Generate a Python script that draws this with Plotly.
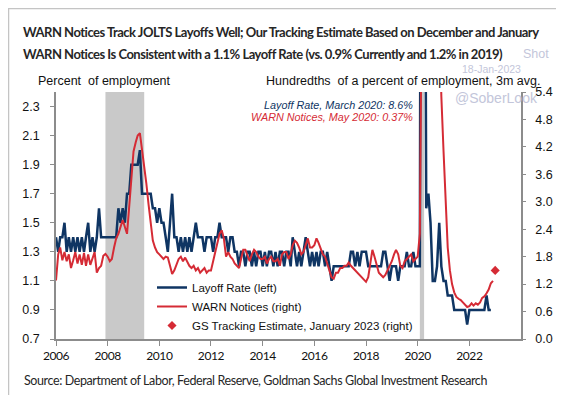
import pandas as pd
import plotly.graph_objects as go

# ---------------- data ----------------
# JOLTS layoff rate (percent of employment), monthly from Jan 2006
layoff_2006 = [1.4, 1.3, 1.4, 1.4, 1.5, 1.3, 1.4, 1.3, 1.4, 1.3, 1.4, 1.3]
layoff_2007 = [1.4, 1.3, 1.4, 1.5, 1.3, 1.4, 1.3, 1.4, 1.6, 1.4, 1.4, 1.4]
layoff_2008 = [1.4, 1.4, 1.4, 1.4, 1.4, 1.6, 1.5, 1.6, 1.5, 1.7, 1.7, 1.9]
layoff_2009 = [1.9, 1.9, 1.9, 2.0, 1.7, 1.7, 1.7, 1.7, 1.7, 1.6, 1.6, 1.5]
layoff_2010 = [1.6, 1.5, 1.5, 1.4, 1.3, 1.5, 1.7, 1.4, 1.4, 1.3, 1.4, 1.3]
layoff_2011 = [1.4, 1.3, 1.4, 1.3, 1.4, 1.5, 1.4, 1.4, 1.4, 1.3, 1.4, 1.4]
layoff_2012 = [1.4, 1.3, 1.4, 1.4, 1.5, 1.4, 1.4, 1.4, 1.3, 1.4, 1.4, 1.3]
layoff_2013 = [1.3, 1.2, 1.3, 1.3, 1.2, 1.3, 1.3, 1.2, 1.3, 1.2, 1.3, 1.3]
layoff_2014 = [1.2, 1.3, 1.2, 1.3, 1.3, 1.2, 1.3, 1.2, 1.3, 1.3, 1.2, 1.3]
layoff_2015 = [1.3, 1.2, 1.4, 1.3, 1.2, 1.3, 1.2, 1.3, 1.4, 1.3, 1.2, 1.3]
layoff_2016 = [1.2, 1.3, 1.2, 1.3, 1.3, 1.2, 1.3, 1.2, 1.1, 1.2, 1.2, 1.2]
layoff_2017 = [1.2, 1.2, 1.2, 1.2, 1.2, 1.3, 1.3, 1.2, 1.3, 1.2, 1.3, 1.3]
layoff_2018 = [1.3, 1.2, 1.2, 1.2, 1.2, 1.2, 1.2, 1.2, 1.3, 1.3, 1.2, 1.1]
layoff_2019 = [1.2, 1.2, 1.2, 1.1, 1.2, 1.2, 1.2, 1.3, 1.2, 1.2, 1.3, 1.2]
layoff_2020 = [1.2, 1.2, 8.6, 5.9, 1.6, 1.7, 1.5, 1.1, 1.1, 1.2, 1.5, 1.2]
layoff_2021 = [1.1, 1.1, 1.0, 1.0, 1.0, 0.9, 0.9, 0.9, 0.9, 0.9, 0.9, 0.8]
layoff_2022 = [0.9, 0.9, 0.9, 0.9, 0.9, 0.9, 0.9, 0.9, 1.0, 0.9, 0.9]

# WARN notices (hundredths of a percent of employment, 3m avg), monthly from Jan 2006
warn_2006 = [1.28, 1.85, 2.0, 1.72, 1.9, 1.7, 1.85, 1.55, 1.72, 1.9, 1.65, 1.85]
warn_2007 = [1.62, 1.88, 1.6, 1.85, 1.62, 1.75, 1.9, 1.45, 1.55, 1.6, 1.82, 1.86]
warn_2008 = [1.8, 1.7, 1.75, 2.0, 2.2, 2.3, 2.45, 2.6, 2.45, 2.3, 2.9, 3.5]
warn_2009 = [4.1, 4.3, 4.45, 4.5, 4.15, 3.85, 3.4, 2.95, 2.5, 2.15, 2.0, 1.9]
warn_2010 = [1.85, 1.8, 1.75, 1.8, 1.78, 1.6, 1.42, 1.5, 1.65, 1.75, 1.8, 1.7]
warn_2011 = [1.78, 1.68, 1.6, 1.55, 1.6, 1.5, 1.55, 1.45, 1.5, 1.55, 1.45, 1.5]
warn_2012 = [1.5, 1.7, 1.85, 2.1, 2.3, 2.38, 2.2, 1.8, 1.9, 1.8, 1.75, 1.65]
warn_2013 = [1.6, 1.55, 1.75, 1.95, 1.95, 1.8, 1.7, 1.85, 1.95, 1.9, 1.8, 1.75]
warn_2014 = [1.75, 1.8, 1.65, 1.75, 1.8, 1.7, 1.7, 1.75, 1.6, 1.85, 1.9, 1.9]
warn_2015 = [1.75, 1.85, 2.05, 2.15, 2.1, 2.0, 1.85, 1.9, 2.05, 2.2, 2.0, 2.0]
warn_2016 = [2.05, 2.2, 2.1, 1.95, 1.85, 1.8, 1.65, 1.5, 1.35, 1.32, 1.45, 1.45]
warn_2017 = [1.55, 1.55, 1.6, 1.6, 1.67, 1.6, 1.55, 1.5, 1.45, 1.4, 1.35, 1.3]
warn_2018 = [1.25, 1.35, 1.6, 1.95, 1.8, 1.6, 1.45, 1.4, 1.35, 1.4, 1.5, 1.6]
warn_2019 = [1.7, 1.85, 1.95, 1.85, 1.6, 1.55, 1.7, 1.75, 1.8, 1.85, 1.7, 1.75]
warn_2020 = [1.8, 2.3, 8.0, 25.0, 37.0, 32.0, 22.0, 15.0, 11.0, 9.0, 7.5, 5.3]
warn_2021 = [4.1, 2.9, 2.0, 1.5, 1.2, 1.02, 0.92, 0.88, 0.85, 0.8, 0.75, 0.7]
warn_2022 = [0.72, 0.78, 0.73, 0.78, 0.75, 0.8, 0.9, 0.93, 1.0, 1.08, 1.22, 1.27]

# GS tracking estimate, January 2023 (right axis)
gs_estimate_date = ["2023-01-01"]
gs_estimate_value = [1.5]

# recession shading
recession_starts = ["2007-12-01", "2020-02-01"]
recession_ends = ["2009-06-01", "2020-04-01"]

# axis ticks
x_tick_years = ["2006", "2008", "2010", "2012", "2014", "2016", "2018", "2020", "2022"]
left_ticks = [0.7, 0.9, 1.1, 1.3, 1.5, 1.7, 1.9, 2.1, 2.3]
right_ticks = [0.0, 0.6, 1.2, 1.8, 2.4, 3.0, 3.6, 4.2, 4.8, 5.4]

layoff_rate = (layoff_2006 + layoff_2007 + layoff_2008 + layoff_2009 + layoff_2010 +
               layoff_2011 + layoff_2012 + layoff_2013 + layoff_2014 + layoff_2015 +
               layoff_2016 + layoff_2017 + layoff_2018 + layoff_2019 + layoff_2020 +
               layoff_2021 + layoff_2022)
warn_notices = (warn_2006 + warn_2007 + warn_2008 + warn_2009 + warn_2010 + warn_2011 +
                warn_2012 + warn_2013 + warn_2014 + warn_2015 + warn_2016 + warn_2017 +
                warn_2018 + warn_2019 + warn_2020 + warn_2021 + warn_2022)

layoff_dates = pd.date_range("2006-01-01", periods=len(layoff_rate), freq="MS")
warn_dates = pd.date_range("2006-01-01", periods=len(warn_notices), freq="MS")

# ---------------- style ----------------
NAVY = "#0f3563"
RED = "#d52b35"
AXIS = "#8c8c8c"
W, H = 564, 395
ML, MR, MT, MB = 48, 51, 84, 64
PW, PH = W - ML - MR, H - MT - MB


def px(xp):
    return (xp - ML) / PW


def py(yp):
    return (H - MB - yp) / PH


COND = "Lato, Roboto, Liberation Sans, sans-serif"
ARIAL = "Liberation Sans, Arial, sans-serif"


def squeeze(text, spacing):
    return f"<span style='letter-spacing:{spacing}px'>{text}</span>"


fig = go.Figure()
fig.add_trace(go.Scatter(x=layoff_dates, y=layoff_rate, mode="lines",
                         name="Layoff Rate (left)",
                         line=dict(color=NAVY, width=2.5), yaxis="y"))
fig.add_trace(go.Scatter(x=warn_dates, y=warn_notices, mode="lines",
                         name="WARN Notices (right)",
                         line=dict(color=RED, width=2), yaxis="y2"))
fig.add_trace(go.Scatter(x=gs_estimate_date, y=gs_estimate_value, mode="markers",
                         name="GS Tracking Estimate, January 2023 (right)",
                         marker=dict(symbol="diamond", color=RED, size=7), yaxis="y2"))

for s, e in zip(recession_starts, recession_ends):
    fig.add_shape(type="rect", xref="x", yref="paper", x0=s, x1=e, y0=0, y1=1,
                  fillcolor="#c9c9c9", line_width=0, layer="below")

# outer border
fig.add_shape(type="rect", xref="paper", yref="paper",
              x0=px(0.5), x1=px(W - 1.5), y0=py(H - 1.5), y1=py(0.5),
              line=dict(color="#c4c4c4", width=1.5), fillcolor="rgba(0,0,0,0)")

annotations = [
    dict(text="<b>" + squeeze("WARN Notices Track JOLTS Layoffs Well; Our Tracking Estimate Based on December and January", -0.5) + "</b>",
         x=px(13), y=py(24), xanchor="left", font=dict(family=COND, size=13, color="#262626")),
    dict(text="<b>" + squeeze("WARN Notices Is Consistent with a 1.1% Layoff Rate (vs. 0.9% Currently and 1.2% in 2019)", -0.5) + "</b>",
         x=px(13), y=py(46), xanchor="left", font=dict(family=COND, size=13, color="#262626")),
    dict(text="Shot", x=px(513), y=py(46), xanchor="left",
         font=dict(family=ARIAL, size=12.5, color="#c3c6da")),
    dict(text="18-Jan-2023", x=px(483), y=py(61), xanchor="center",
         font=dict(family=ARIAL, size=10.5, color="#c3c6da")),
    dict(text="@SoberLook", x=px(488), y=py(90), xanchor="center",
         font=dict(family=ARIAL, size=14, color="#c3c6da")),
    dict(text="Percent  of employment", x=px(28), y=py(73), xanchor="left",
         font=dict(family=ARIAL, size=12.5, color="#111111")),
    dict(text="Hundredths  of a percent of employment, 3m avg.", x=px(534), y=py(73), xanchor="right",
         font=dict(family=ARIAL, size=12.5, color="#111111")),
    dict(text="<i>Layoff Rate, March 2020: 8.6%</i>", x=px(407), y=py(97), xanchor="right",
         font=dict(family=ARIAL, size=10.8, color=NAVY)),
    dict(text="<i>WARN Notices, May 2020: 0.37%</i>", x=px(407), y=py(109), xanchor="right",
         font=dict(family=ARIAL, size=10.8, color=RED)),
    dict(text=squeeze("Source: Department of Labor, Federal Reserve, Goldman Sachs Global Investment Research", -0.4),
         x=px(14), y=py(372), xanchor="left", font=dict(family=COND, size=12.5, color="#262626")),
]
for a in annotations:
    a.update(xref="paper", yref="paper", yanchor="middle", showarrow=False)

fig.update_layout(
    width=W, height=H,
    margin=dict(l=ML, r=MR, t=MT, b=MB, pad=0),
    paper_bgcolor="white", plot_bgcolor="white",
    annotations=annotations,
    showlegend=True,
    legend=dict(x=px(144), y=py(265), xanchor="left", yanchor="top",
                bgcolor="rgba(0,0,0,0)", font=dict(family=ARIAL, size=11.5, color="#111111"),
                tracegroupgap=0, itemwidth=30),
    xaxis=dict(type="date", range=["2006-01-01", "2024-01-01"],
               tickvals=[y + "-01-01" for y in x_tick_years],
               ticktext=[squeeze(y, -0.4) for y in x_tick_years],
               showgrid=False, zeroline=False,
               showline=True, linecolor=AXIS, linewidth=1.5,
               ticks="outside", ticklen=5, tickcolor=AXIS,
               tickfont=dict(family=COND, size=12, color="#111111")),
    yaxis=dict(range=[0.7, 2.4], tickvals=left_ticks, tickformat=".1f",
               showgrid=False, zeroline=False,
               showline=True, linecolor=AXIS, linewidth=1.5,
               ticks="outside", ticklen=4, tickcolor=AXIS, ticklabelstandoff=8,
               tickfont=dict(family=ARIAL, size=12.5, color="#111111")),
    yaxis2=dict(range=[0, 5.4], tickvals=right_ticks, tickformat=".1f",
                overlaying="y", side="right",
                showgrid=False, zeroline=False,
                showline=True, linecolor=AXIS, linewidth=1.5,
                ticks="outside", ticklen=3, tickcolor=AXIS, ticklabelstandoff=7,
                tickfont=dict(family=ARIAL, size=12.5, color="#111111")),
)

fig.write_html("out.html")
